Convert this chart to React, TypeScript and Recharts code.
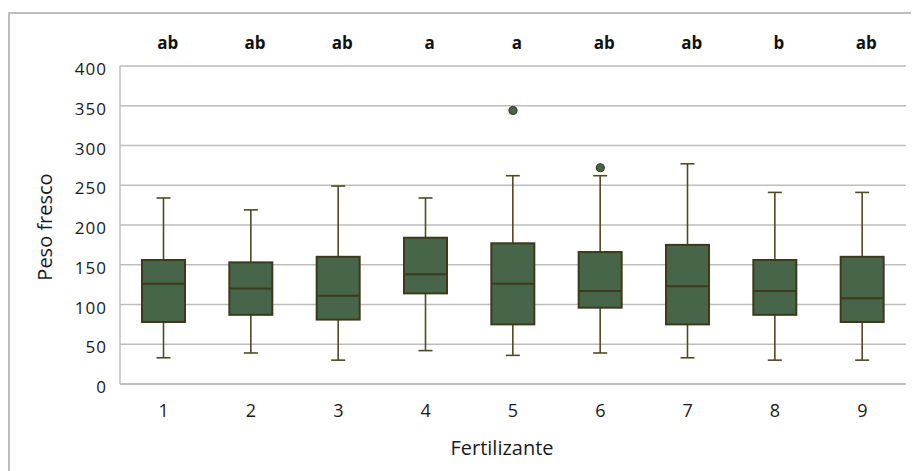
import React from 'react';
import {
  ComposedChart,
  Bar,
  Scatter,
  XAxis,
  YAxis,
  CartesianGrid,
  Label,
} from 'recharts';

// Fertilizer treatments and their box-plot summaries (fresh weight)
const categories = ['1', '2', '3', '4', '5', '6', '7', '8', '9'];
const minValues = [33, 39, 30, 42, 36, 39, 33, 30, 30];
const q1Values = [78, 87, 81, 114, 75, 96, 75, 87, 78];
const medianValues = [126, 120, 111, 138, 126, 117, 123, 117, 108];
const q3Values = [156, 153, 160, 184, 177, 166, 175, 156, 160];
const maxValues = [234, 219, 249, 234, 262, 262, 277, 241, 241];
const outlierValues: (number | null)[] = [null, null, null, null, 344, 272, null, null, null];
const groupLetters = ['ab', 'ab', 'ab', 'a', 'a', 'ab', 'ab', 'b', 'ab'];
const yTicks = [0, 50, 100, 150, 200, 250, 300, 350, 400];

const data = categories.map((name, i) => ({
  name,
  min: minValues[i],
  q1: q1Values[i],
  median: medianValues[i],
  q3: q3Values[i],
  max: maxValues[i],
  boxBase: q1Values[i],
  boxSpan: q3Values[i] - q1Values[i],
  outlier: outlierValues[i],
}));

const FILL = '#476548';
const EDGE = '#3d3a1c';
const WHISKER = '#4f4a22';
const GRID = '#bdbdbd';
const FONT = '"Open Sans", sans-serif';
const INK = '#1a1a1a';

// Draws whiskers, box and median from the stacked bar's geometry
const BoxShape = (props: any) => {
  const { x, y, width, height, payload } = props;
  if (payload == null || !height) return null;
  const span = payload.q3 - payload.q1;
  const ppu = height / span;
  const yOf = (v: number) => y + (payload.q3 - v) * ppu;
  const cx = x + width / 2;
  const cap = 7;
  const yMax = yOf(payload.max);
  const yMin = yOf(payload.min);
  const yMed = yOf(payload.median);
  return (
    <g>
      <line x1={cx} x2={cx} y1={yMax} y2={y} stroke={WHISKER} strokeWidth={1.6} />
      <line x1={cx} x2={cx} y1={y + height} y2={yMin} stroke={WHISKER} strokeWidth={1.6} />
      <line x1={cx - cap} x2={cx + cap} y1={yMax} y2={yMax} stroke={WHISKER} strokeWidth={1.6} />
      <line x1={cx - cap} x2={cx + cap} y1={yMin} y2={yMin} stroke={WHISKER} strokeWidth={1.6} />
      <rect x={x} y={y} width={width} height={height} fill={FILL} stroke={EDGE} strokeWidth={2} />
      <line x1={x} x2={x + width} y1={yMed} y2={yMed} stroke={EDGE} strokeWidth={2} />
    </g>
  );
};

const OutlierDot = (props: any) => {
  const { cx, cy, payload } = props;
  if (payload == null || payload.outlier == null) return <g />;
  return <circle cx={cx} cy={cy} r={4} fill={FILL} stroke={EDGE} strokeWidth={1.2} />;
};

export default function App() {
  return (
    <div style={{ position: 'relative', width: 911, height: 463 }}>
      <svg
        width={911}
        height={463}
        style={{ position: 'absolute', left: 0, top: 0, pointerEvents: 'none' }}
      >
        <rect x={1} y={5} width={1200} height={1200} fill="none" stroke={GRID} strokeWidth={2} />
      </svg>
      <ComposedChart
        width={911}
        height={463}
        data={data}
        margin={{ top: 18, right: 13, bottom: 57, left: 50 }}
        style={{ position: 'absolute', left: 0, top: 0 }}
      >
        <CartesianGrid vertical={false} stroke={GRID} strokeWidth={1.5} />
        <XAxis
          dataKey="name"
          allowDuplicatedCategory={false}
          axisLine={{ stroke: GRID, strokeWidth: 1.5 }}
          tickLine={false}
          tickMargin={14}
          height={30}
          tick={{ fill: INK, fontSize: 18, fontFamily: FONT }}
        >
          <Label
            content={(p: any) => {
              const vb = p.viewBox;
              return (
                <text
                  x={vb.x + vb.width / 2 - 11}
                  y={447}
                  textAnchor="middle"
                  fontSize={20}
                  fontFamily={FONT}
                  fill={INK}
                >
                  Fertilizante
                </text>
              );
            }}
          />
        </XAxis>
        <XAxis
          xAxisId="top"
          orientation="top"
          dataKey="name"
          allowDuplicatedCategory={false}
          axisLine={false}
          tickLine={false}
          tickMargin={11}
          height={40}
          tickFormatter={(v: string) => groupLetters[categories.indexOf(v)]}
          tick={{ fill: '#111', fontSize: 17, fontWeight: 700, fontFamily: FONT, dx: 4 }}
        />
        <YAxis
          domain={[0, 400]}
          ticks={yTicks}
          interval={0}
          width={62}
          axisLine={{ stroke: GRID, strokeWidth: 1.5 }}
          tickLine={false}
          tickMargin={7}
          tick={{ fill: INK, fontSize: 17, fontFamily: FONT, dy: 3, letterSpacing: 1 }}
        >
          <Label
            content={(p: any) => {
              const vb = p.viewBox;
              const cy = vb.y + vb.height / 2 + 2;
              return (
                <text
                  x={44}
                  y={cy}
                  transform={`rotate(-90, 44, ${cy})`}
                  textAnchor="middle"
                  fontSize={20}
                  fontFamily={FONT}
                  fill={INK}
                >
                  Peso fresco
                </text>
              );
            }}
          />
        </YAxis>
        <Bar dataKey="boxBase" stackId="box" fill="transparent" barSize={43} isAnimationActive={false} />
        <Bar dataKey="boxSpan" stackId="box" barSize={43} shape={BoxShape} isAnimationActive={false} />
        <Scatter dataKey="outlier" shape={OutlierDot} isAnimationActive={false} />
      </ComposedChart>
    </div>
  );
}
